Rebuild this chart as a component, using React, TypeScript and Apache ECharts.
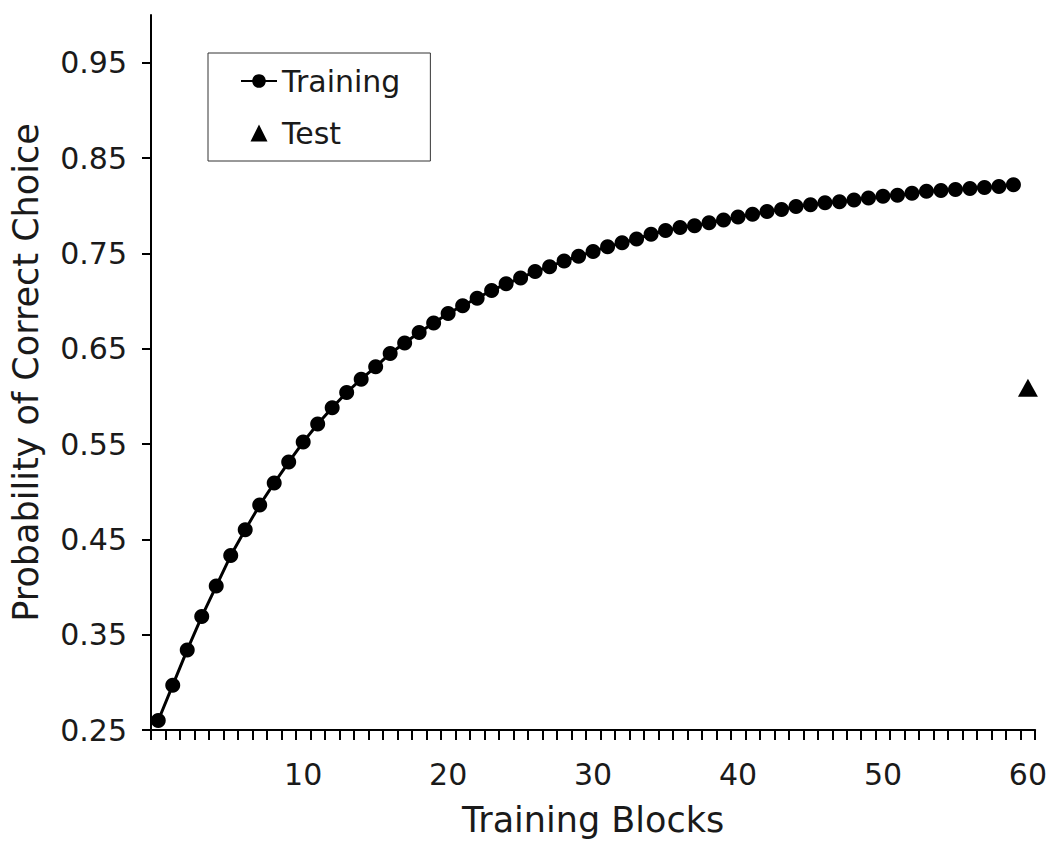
import React, { useEffect, useRef } from "react";
import * as echarts from "echarts";

const blocks: string[] = Array.from({ length: 61 }, (_, i) => String(i));

const trainingValues: number[] = [
  0.26, 0.297, 0.334, 0.369, 0.401, 0.433, 0.46, 0.486, 0.509, 0.531,
  0.552, 0.571, 0.588, 0.604, 0.618, 0.631, 0.645, 0.656, 0.667, 0.677,
  0.687, 0.695, 0.703, 0.711, 0.718, 0.724, 0.731, 0.736, 0.742, 0.747,
  0.752, 0.757, 0.761, 0.765, 0.77, 0.774, 0.777, 0.779, 0.782, 0.785,
  0.788, 0.791, 0.794, 0.796, 0.799, 0.801, 0.803, 0.804, 0.806, 0.808,
  0.81, 0.811, 0.813, 0.815, 0.816, 0.817, 0.818, 0.819, 0.82, 0.822,
];

const testPoints: [number, number][] = [[60, 0.609]];

const yTickValues: number[] = [0.25, 0.35, 0.45, 0.55, 0.65, 0.75, 0.85, 0.95];

const FONT = "DejaVu Sans";
const INK = "#1a1a1a";
const TRIANGLE = "path://M0,-1L1,1L-1,1Z";

export default function App() {
  const ref = useRef<HTMLDivElement>(null);

  useEffect(() => {
    if (!ref.current) return;
    const chart = echarts.init(ref.current, undefined, { renderer: "svg" });
    chart.setOption({
      animation: false,
      backgroundColor: "#ffffff",
      textStyle: { fontFamily: FONT, color: INK },
      grid: { left: 151, right: 12, top: 15, bottom: 117, containLabel: false },
      legend: {
        orient: "vertical",
        left: 208,
        top: 53,
        padding: [13, 30, 13, 32],
        itemGap: 22,
        itemWidth: 36,
        itemHeight: 17,
        symbolKeepAspect: true,
        borderColor: "#333333",
        borderWidth: 1,
        backgroundColor: "#ffffff",
        textStyle: { fontFamily: FONT, fontSize: 30, color: INK },
        data: [{ name: "Training" }, { name: "Test", icon: TRIANGLE }],
      },
      xAxis: {
        type: "category",
        data: blocks,
        boundaryGap: true,
        name: "Training Blocks",
        nameLocation: "middle",
        nameGap: 72,
        nameTextStyle: { fontFamily: FONT, fontSize: 35, color: INK },
        axisLine: { show: true, lineStyle: { color: "#000000", width: 2 } },
        axisTick: {
          show: true,
          interval: 0,
          alignWithLabel: false,
          inside: false,
          length: 10,
          lineStyle: { color: "#000000", width: 2 },
        },
        axisLabel: {
          interval: (index: number) => index > 0 && index % 10 === 0,
          margin: 29,
          fontFamily: FONT,
          fontSize: 30,
          color: INK,
        },
        splitLine: { show: false },
      },
      yAxis: {
        type: "value",
        min: 0.25,
        max: 1.0,
        name: "Probability of Correct Choice",
        nameLocation: "middle",
        nameGap: 108,
        nameTextStyle: { fontFamily: FONT, fontSize: 35, color: INK },
        axisLine: { show: true, lineStyle: { color: "#000000", width: 2 } },
        axisTick: {
          show: true,
          length: 9,
          customValues: yTickValues,
          lineStyle: { color: "#000000", width: 2 },
        },
        axisLabel: {
          customValues: yTickValues,
          margin: 24,
          fontFamily: FONT,
          fontSize: 30,
          color: INK,
          formatter: (v: number) => v.toFixed(2),
        },
        splitLine: { show: false },
      },
      series: [
        {
          name: "Training",
          type: "line",
          data: trainingValues,
          symbol: "circle",
          symbolSize: 15,
          showAllSymbol: true,
          lineStyle: { color: "#000000", width: 3 },
          itemStyle: { color: "#000000" },
          z: 3,
        },
        {
          name: "Test",
          type: "scatter",
          data: testPoints,
          symbol: "triangle",
          symbolSize: [20, 18],
          itemStyle: { color: "#000000", opacity: 1 },
        },
      ],
    });
    return () => chart.dispose();
  }, []);

  return (
    <div
      ref={ref}
      style={{ position: "absolute", left: 0, top: 0, width: 1050, height: 847 }}
    />
  );
}
